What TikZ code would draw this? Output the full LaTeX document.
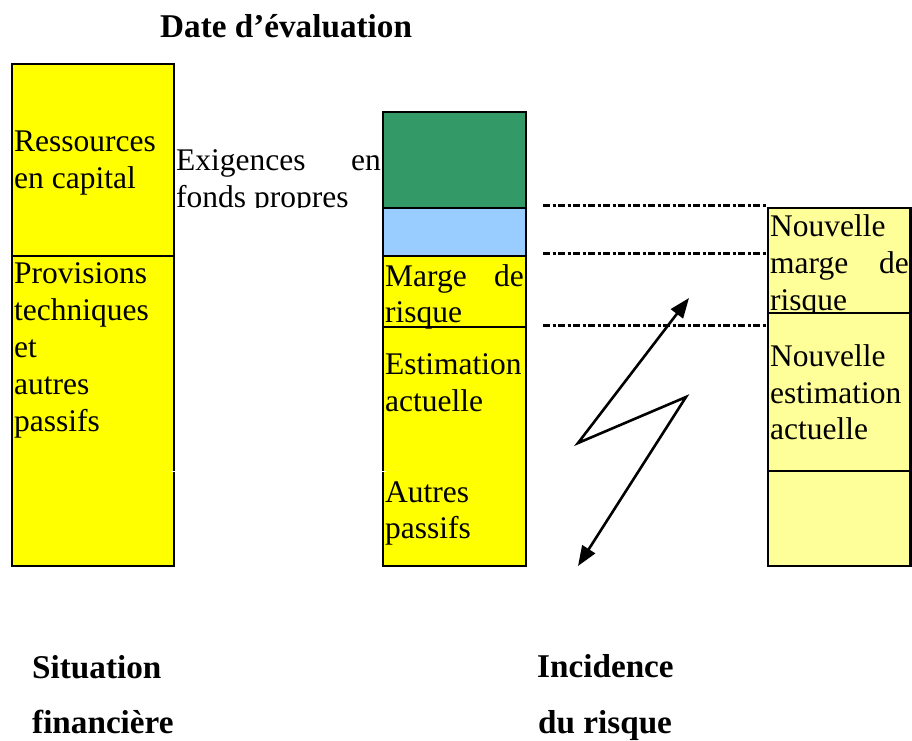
\documentclass[tikz,border=0pt]{standalone}
\usepackage{fontspec}
\setmainfont{Liberation Serif}
\usetikzlibrary{arrows.meta}
\definecolor{ybright}{HTML}{FFFF00}
\definecolor{ypale}{HTML}{FFFF99}
\definecolor{gdark}{HTML}{339966}
\definecolor{bpale}{HTML}{99CCFF}
\tikzset{
  box/.style={draw=black, line width=2.9pt},
  txt/.style={inner sep=0pt, anchor=base west, font=\fontsize{31.5}{37}\selectfont},
  txtr/.style={inner sep=0pt, anchor=base east, font=\fontsize{31.5}{37}\selectfont},
  ttl/.style={inner sep=0pt, anchor=base west, font=\fontsize{33.2}{37}\selectfont\bfseries},
  dd/.style={line width=3pt, dash pattern=on 7pt off 2.5pt on 3pt off 2.5pt},
  zig/.style={line width=2.6pt, {Triangle[length=20pt,width=15pt]}-{Triangle[length=20pt,width=15pt]}}
}
\begin{document}
\begin{tikzpicture}[x=1pt,y=-1pt]
\useasboundingbox (0,0) rectangle (912,740);
% left box
\fill[ybright] (12,64) rectangle (174,566);
\draw[box] (12,64) rectangle (174,566);
\draw[box] (12,256) -- (174,256);
% middle box
\fill[gdark] (383,112) rectangle (526,208);
\fill[bpale] (383,208) rectangle (526,256);
\fill[ybright] (383,256) rectangle (526,566);
\draw[box] (383,112) rectangle (526,566);
\draw[box] (383,208) -- (526,208);
\draw[box] (383,256) -- (526,256);
\draw[box] (383,327) -- (526,327);
% small white breaks
\draw[white, line width=1pt] (171,471) -- (177,471);
\draw[white, line width=1pt] (380,471) -- (386,471);
% right box
\fill[ypale] (768,208) rectangle (911,566);
\draw[box] (768,208) rectangle (910.5,566);
\draw[box] (768,313) -- (910.5,313);
\draw[box] (768,471) -- (910.5,471);
% dash-dot lines
\coordinate (d1a) at (543,205); \coordinate (d1b) at (767,205);
\coordinate (d2a) at (543,253); \coordinate (d2b) at (767,253);
\coordinate (d3a) at (543,325); \coordinate (d3b) at (767,325);
\draw[dd] (d1a) -- (d1b);
\draw[dd] (d2a) -- (d2b);
\draw[dd] (d3a) -- (d3b);
% zigzag arrow
\coordinate (z1) at (689,298);
\coordinate (z2) at (578,443);
\coordinate (z3) at (686,397);
\coordinate (z4) at (578,566);
\draw[zig, line join=miter] (z1) -- (z2) -- (z3) -- (z4);
% titles
\node[ttl] (t1) at (160,37) {Date d’évaluation};
\node[ttl] (t2) at (32,678) {Situation};
\node[ttl] (t3) at (32,733) {financière};
\node[ttl] (t4) at (537,677) {Incidence};
\node[ttl] (t5) at (538,733) {du risque};
% left box text
\node[txt] (l1) at (14,151) {Ressources};
\node[txt] (l2) at (14,188) {en capital};
\node[txt] (l3) at (14,283) {Provisions};
\node[txt] (l4) at (14,320) {techniques};
\node[txt] (l5) at (14,357) {et};
\node[txt] (l6) at (14,394) {autres};
\node[txt] (l7) at (14,431) {passifs};
% exigences
\begin{scope}
\clip (174,120) rectangle (383,207);
\node[txt] (e1) at (176,170) {Exigences};
\node[txtr] (e2) at (381,170) {en};
\node[txt] (e3) at (176,207) {fonds propres};
\end{scope}
% middle box text
\node[txt] (m1) at (385,286) {Marge};
\node[txtr] (m2) at (524,286) {de};
\node[txt] (m3) at (385,322) {risque};
\node[txt] (m4) at (385,374) {Estimation};
\node[txt] (m5) at (385,411) {actuelle};
\node[txt] (m6) at (385,502) {Autres};
\node[txt] (m7) at (385,538) {passifs};
% right box text
\node[txt] (r1) at (770,236) {Nouvelle};
\node[txt] (r2) at (770,273) {marge};
\node[txtr] (r3) at (909,273) {de};
\begin{scope}
\clip (768,280) rectangle (911,312);
\node[txt] (r4) at (770,310) {risque};
\end{scope}
\node[txt] (r5) at (770,366) {Nouvelle};
\node[txt] (r6) at (770,403) {estimation};
\node[txt] (r7) at (770,439) {actuelle};
\end{tikzpicture}
\end{document}
